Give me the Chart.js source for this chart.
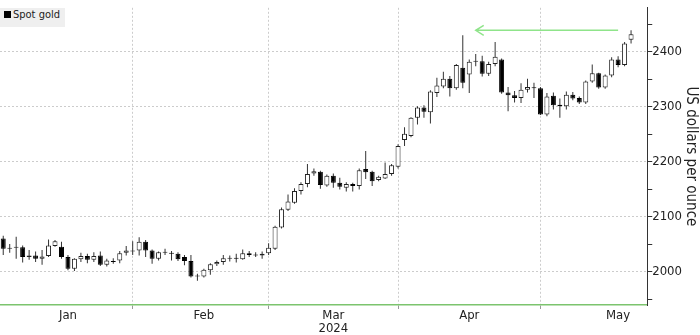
<!DOCTYPE html>
<html>
<head>
<meta charset="utf-8">
<script src="https://cdn.jsdelivr.net/npm/chart.js@4.4.1/dist/chart.umd.min.js"></script>
<style>
  html, body { margin: 0; padding: 0; background: #fff; }
  #wrap { position: relative; width: 700px; height: 335px; }
  #legend {
    position: absolute; left: 0; top: 8px; height: 19px; line-height: 19px;
    padding: 0 5px 0 4px; background: #efefef; color: #222;
    font: 11px "DejaVu Sans Condensed", "DejaVu Sans", sans-serif;
  }
  #legend .sw { display: inline-block; width: 7px; height: 7px; background: #000; margin-right: 2px; }
</style>
</head>
<body>
<div id="wrap">
  <canvas id="goldChart" width="700" height="335"></canvas>
  <div id="legend"><span class="sw"></span>Spot gold</div>
</div>
<script>
// trading days shown (Jan 3 - May 20, 2024)
const dates = [
  '2024-01-03','2024-01-04','2024-01-05','2024-01-08','2024-01-09','2024-01-10','2024-01-11','2024-01-12','2024-01-15','2024-01-16','2024-01-17',
  '2024-01-18','2024-01-19','2024-01-22','2024-01-23','2024-01-24','2024-01-25','2024-01-26','2024-01-29','2024-01-30','2024-01-31',
  '2024-02-01','2024-02-02','2024-02-05','2024-02-06','2024-02-07','2024-02-08','2024-02-09','2024-02-12','2024-02-13','2024-02-14','2024-02-15',
  '2024-02-16','2024-02-19','2024-02-20','2024-02-21','2024-02-22','2024-02-23','2024-02-26','2024-02-27','2024-02-28','2024-02-29',
  '2024-03-01','2024-03-04','2024-03-05','2024-03-06','2024-03-07','2024-03-08','2024-03-11','2024-03-12','2024-03-13','2024-03-14',
  '2024-03-15','2024-03-18','2024-03-19','2024-03-20','2024-03-21','2024-03-22','2024-03-25','2024-03-26','2024-03-27','2024-03-28',
  '2024-04-01','2024-04-02','2024-04-03','2024-04-04','2024-04-05','2024-04-08','2024-04-09','2024-04-10','2024-04-11','2024-04-12','2024-04-15',
  '2024-04-16','2024-04-17','2024-04-18','2024-04-19','2024-04-22','2024-04-23','2024-04-24','2024-04-25','2024-04-26','2024-04-29','2024-04-30',
  '2024-05-01','2024-05-02','2024-05-03','2024-05-06','2024-05-07','2024-05-08','2024-05-09','2024-05-10','2024-05-13','2024-05-14',
  '2024-05-15','2024-05-16','2024-05-17','2024-05-20'
];
// empty slots after the last candle
const padDates = ['2024-05-21', '2024-05-22'];

const opens = [
  2061,2042,2044,2045,2027,2030,2024,2029,2047,2046,2027,2006,2023,2029,2022,2030,2013,2020,2021,2035,2037,
  2039,2055,2039,2024,2035,2035,2033,2027,2020,1992,1992,2003,2014,2018,2024,2025,2023,2034,2031,2030,2034,
  2042,2081,2113,2126,2147,2160,2179,2182,2157,2175,2162,2153,2160,2156,2187,2182,2167,2170,2178,2191,
  2240,2247,2280,2299,2290,2325,2337,2351,2334,2371,2359,2382,2383,2360,2378,2386,2326,2321,2316,2331,2335,2334,
  2286,2320,2304,2301,2322,2316,2308,2346,2361,2335,2357,2386,2376,2422
];
const highs = [
  2066,2051,2064,2048,2040,2037,2040,2059,2058,2055,2031,2025,2035,2033,2036,2037,2024,2025,2038,2047,2056,
  2063,2058,2041,2037,2042,2038,2036,2031,2031,1997,2006,2016,2021,2031,2030,2033,2041,2038,2036,2037,2052,
  2084,2117,2141,2152,2163,2196,2188,2184,2177,2179,2171,2163,2162,2188,2220,2184,2175,2199,2196,2232,
  2263,2281,2301,2303,2330,2353,2364,2356,2378,2430,2386,2396,2393,2382,2418,2388,2336,2329,2343,2351,2344,2336,
  2325,2326,2315,2328,2327,2319,2348,2377,2362,2359,2390,2392,2418,2439
];
const lows = [
  2031,2035,2024,2017,2022,2018,2013,2027,2046,2024,2003,2002,2018,2016,2018,2011,2010,2015,2016,2030,2031,
  2030,2027,2015,2021,2031,2021,2020,2012,1990,1984,1990,1995,2011,2013,2019,2017,2022,2027,2027,2024,2031,
  2040,2079,2111,2124,2141,2154,2175,2151,2155,2153,2150,2146,2146,2150,2169,2156,2165,2169,2175,2188,
  2229,2245,2268,2280,2270,2318,2334,2319,2331,2334,2325,2374,2355,2356,2374,2324,2292,2308,2307,2326,2316,2285,
  2283,2295,2280,2295,2312,2305,2305,2344,2333,2333,2354,2372,2374,2415
];
const closes = [
  2042,2043,2046,2027,2030,2024,2028,2048,2056,2027,2006,2024,2029,2022,2029,2013,2021,2018,2034,2039,2039,
  2055,2039,2024,2036,2036,2033,2023,2020,1992,1993,2004,2014,2018,2025,2026,2024,2034,2031,2030,2033,2044,
  2082,2114,2128,2147,2160,2178,2183,2158,2175,2162,2155,2160,2156,2185,2181,2165,2173,2178,2194,2229,
  2251,2280,2299,2291,2328,2339,2351,2334,2376,2344,2382,2383,2360,2378,2391,2326,2321,2316,2331,2336,2334,2286,
  2319,2303,2301,2322,2315,2308,2346,2361,2335,2357,2386,2376,2415,2432
];

// x-axis month labels and where they sit, month-end grid lines
const tickDates = ['2024-01-17', '2024-02-15', '2024-03-14', '2024-04-15', '2024-05-16'];
const tickTexts = ['Jan', 'Feb', ['Mar', '2024'], 'Apr', 'May'];
const monthEnds = ['2024-01-31', '2024-02-29', '2024-03-28', '2024-04-30'];

// y-axis
const yMin = 1940, yMax = 2480, yStep = 50;

// green arrow annotation (from recent high back to April high)
const arrowFrom = '2024-05-16', arrowTo = '2024-04-16', arrowLevel = 2439;

const FONT = '"DejaVu Sans Condensed", "DejaVu Sans", sans-serif';
const labels = dates.concat(padDates);
const isUp = closes.map((c, i) => c >= opens[i]);

const arrowPlugin = {
  id: 'arrow',
  afterDatasetsDraw(chart) {
    const xs = chart.scales.x, ys = chart.scales.y, ctx = chart.ctx;
    const x0 = xs.getPixelForValue(labels.indexOf(arrowFrom));
    const x1 = xs.getPixelForValue(labels.indexOf(arrowTo));
    const yy = ys.getPixelForValue(arrowLevel);
    ctx.save();
    ctx.strokeStyle = '#8fe48a';
    ctx.lineWidth = 1.5;
    ctx.beginPath();
    ctx.moveTo(x0, yy);
    ctx.lineTo(x1, yy);
    ctx.moveTo(x1 + 8, yy - 5);
    ctx.lineTo(x1, yy);
    ctx.lineTo(x1 + 8, yy + 5);
    ctx.stroke();
    ctx.restore();
  }
};

new Chart(document.getElementById('goldChart'), {
  type: 'bar',
  data: {
    labels: labels,
    datasets: [
      {
        // candle bodies
        data: dates.map((d, i) => [opens[i], closes[i]]),
        backgroundColor: isUp.map(u => u ? '#ffffff' : '#000000'),
        borderColor: isUp.map(u => u ? '#222222' : '#000000'),
        borderWidth: 1,
        borderSkipped: false,
        barThickness: 5,
        minBarLength: 1,
        inflateAmount: 0,
        grouped: false
      },
      {
        // wicks
        data: dates.map((d, i) => [lows[i], highs[i]]),
        backgroundColor: '#333333',
        borderWidth: 0,
        barThickness: 1,
        inflateAmount: 0,
        grouped: false
      }
    ]
  },
  options: {
    responsive: false,
    animation: false,
    events: [],
    layout: { padding: { top: 3, left: 0, right: 0, bottom: 0 } },
    plugins: {
      legend: { display: false },
      tooltip: { enabled: false }
    },
    scales: {
      x: {
        offset: true,
        grid: {
          offset: false,
          color: ctx => monthEnds.includes(labels[ctx.index]) ? '#cccccc' : 'rgba(0,0,0,0)',
          tickColor: ctx => monthEnds.includes(labels[ctx.index]) ? '#9a9a9a' : 'rgba(0,0,0,0)',
          tickLength: 4,
          tickBorderDash: []
        },
        border: { color: '#7cc46e', width: 1.5, dash: [2, 2] },
        ticks: {
          autoSkip: false,
          maxRotation: 0,
          minRotation: 0,
          padding: 0,
          color: '#222',
          font: { family: FONT, size: 13, lineHeight: 1.0 },
          callback: function (value, index) {
            const k = tickDates.indexOf(labels[index]);
            return k < 0 ? '' : tickTexts[k];
          }
        }
      },
      y: {
        position: 'right',
        min: yMin,
        max: yMax,
        grid: {
          color: ctx => ctx.tick && ctx.tick.value % 100 === 0 ? '#cccccc' : 'rgba(0,0,0,0)',
          tickColor: '#333',
          tickLength: 5,
          tickBorderDash: []
        },
        border: { color: '#333', width: 1, dash: [2, 2] },
        ticks: {
          stepSize: yStep,
          includeBounds: false,
          padding: 0,
          color: '#222',
          font: { family: FONT, size: 13 },
          callback: v => v % 100 === 0 ? String(v) : ''
        },
        title: {
          display: true,
          text: 'US dollars per ounce',
          color: '#222',
          font: { family: FONT, size: 15 },
          padding: { top: 0, bottom: 0 }
        }
      }
    }
  },
  plugins: [arrowPlugin]
});
</script>
</body>
</html>
